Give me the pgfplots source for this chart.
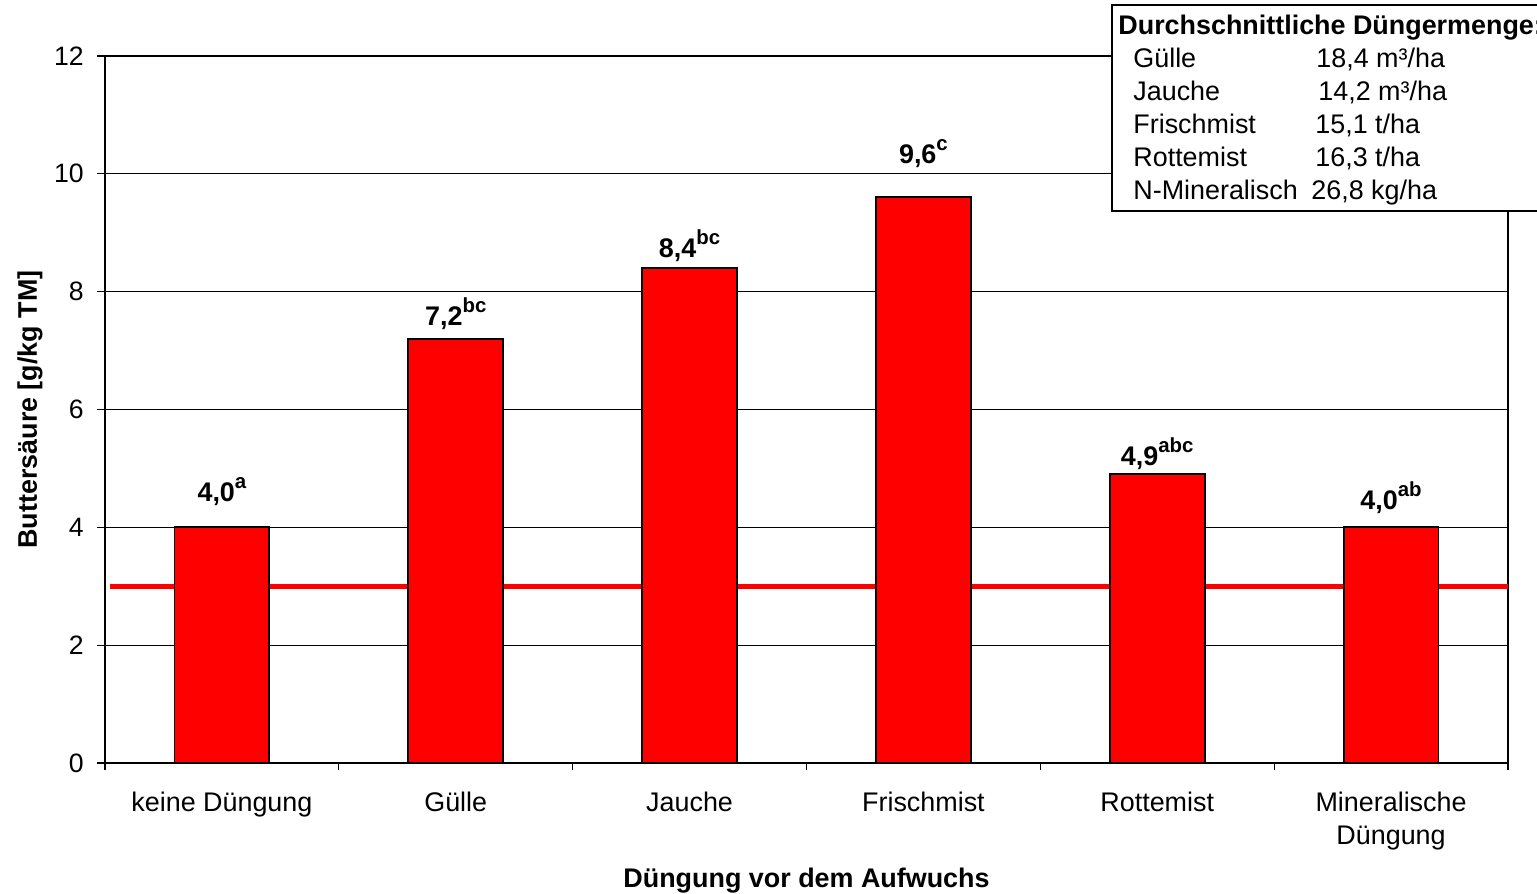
\documentclass[border=0pt]{standalone}
\usepackage{fontspec}
\setmainfont{Liberation Sans}
\usepackage{pgfplots}
\usepackage{pgfplotstable}
\pgfplotsset{compat=1.18}

\newcommand\lbl{\fontsize{13.45pt}{16.5pt}\selectfont}
\newcommand\sups[1]{\raisebox{6.5pt}{\fontsize{10.2pt}{10.2pt}\selectfont\bfseries #1}}

% Buttersaeure je Duengung, dy = Abstand der Beschriftung ueber dem Balken (pt)
\pgfplotstableread{
x y dy lab
0 4.0 12.8 {4,0\sups{a}}
1 7.2 6.4 {7,2\sups{bc}}
2 8.4 5.2 {8,4\sups{bc}}
3 9.6 17.0 {9,6\sups{c}}
4 4.9 4.5 {4,9\sups{abc}}
5 4.0 9.0 {4,0\sups{ab}}
}\bars

\begin{document}
\begin{tikzpicture}
\begin{axis}[
  scale only axis,
  width=701.5pt, height=353.5pt,
  xmin=-0.5, xmax=5.5, ymin=0, ymax=12,
  xtick={0,...,5},
  xticklabels={keine Düngung, Gülle, Jauche, Frischmist, Rottemist, {Mineralische\\Düngung}},
  minor xtick={-0.5,0.5,...,5.5},
  ytick={0,2,...,12},
  xtick pos=bottom, ytick pos=left,
  tick align=outside,
  major x tick style={draw=none},
  major tick length=4pt, minor tick length=3.5pt,
  tick style={black, line width=0.6pt},
  ymajorgrids,
  grid style={black, line width=0.5pt},
  axis line style={black, line width=0.7pt},
  /pgf/number format/assume math mode=true,
  xticklabel style={font=\lbl, align=center, anchor=north, inner sep=0pt, yshift=-10.5pt},
  yticklabel style={font=\fontsize{13.3pt}{14pt}\selectfont, anchor=east, inner sep=0pt, xshift=-6.5pt},
  xlabel={Düngung vor dem Aufwuchs},
  xlabel style={font=\lbl\bfseries, at={(axis description cs:0.5,-0.1754)}, anchor=base},
  ylabel={Buttersäure [g/kg TM]},
  ylabel style={font=\lbl\bfseries, at={(axis description cs:-0.0535,0.5)}, anchor=center},
]
  % Grenzwert 3 g/kg TM
  \addplot[red, line width=2.3pt, sharp plot, forget plot] coordinates {(-0.48,3) (5.5,3)};

  \addplot[ybar, bar width=0.406, fill=red, draw=black, line width=0.9pt,
    point meta=explicit symbolic,
    visualization depends on={\thisrow{dy} \as \dy},
    nodes near coords,
    nodes near coords style={anchor=base, yshift=\dy pt, font=\lbl\bfseries, text=black}]
    table[x=x, y=y, meta=lab] {\bars};
\end{axis}

% Kasten mit den Duengermengen
\draw[line width=1pt, fill=white] ([shift={(503.5pt,25.5pt)}]current axis.north west) rectangle ([shift={(725pt,-77.5pt)}]current axis.north west);
\node[anchor=base west, inner sep=0pt, font=\lbl\bfseries] at ([shift={(506.5pt,10.5pt)}]current axis.north west) {Durchschnittliche Düngermenge:};
\node[anchor=base west, inner sep=0pt, font=\lbl] at ([shift={(514pt,-6pt)}]current axis.north west) {Gülle};
\node[anchor=base west, inner sep=0pt, font=\lbl] at ([shift={(514pt,-22.5pt)}]current axis.north west) {Jauche};
\node[anchor=base west, inner sep=0pt, font=\lbl] at ([shift={(514pt,-39pt)}]current axis.north west) {Frischmist};
\node[anchor=base west, inner sep=0pt, font=\lbl] at ([shift={(514pt,-55.5pt)}]current axis.north west) {Rottemist};
\node[anchor=base west, inner sep=0pt, font=\lbl] at ([shift={(514pt,-72pt)}]current axis.north west) {N-Mineralisch};
\node[anchor=base west, inner sep=0pt, font=\lbl] at ([shift={(605.5pt,-6pt)}]current axis.north west) {18,4 m³/ha};
\node[anchor=base west, inner sep=0pt, font=\lbl] at ([shift={(606.5pt,-22.5pt)}]current axis.north west) {14,2 m³/ha};
\node[anchor=base west, inner sep=0pt, font=\lbl] at ([shift={(605pt,-39pt)}]current axis.north west) {15,1 t/ha};
\node[anchor=base west, inner sep=0pt, font=\lbl] at ([shift={(605pt,-55.5pt)}]current axis.north west) {16,3 t/ha};
\node[anchor=base west, inner sep=0pt, font=\lbl] at ([shift={(603pt,-72pt)}]current axis.north west) {26,8 kg/ha};

\pgfresetboundingbox
\path[use as bounding box] ([shift={(-52.5pt,-65.5pt)}]current axis.south west) rectangle ([shift={(716pt,28pt)}]current axis.north west);
\end{tikzpicture}
\end{document}
